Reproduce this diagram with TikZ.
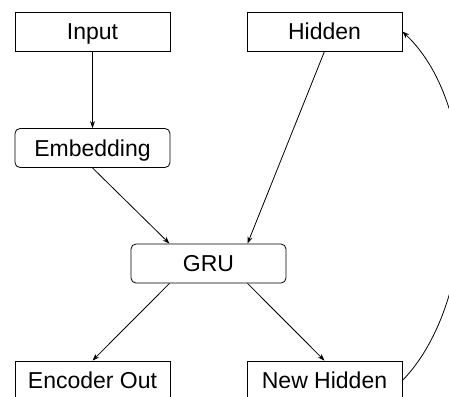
\documentclass[tikz,border=0pt]{standalone}
\usepackage{fontspec}
\setmainfont{Liberation Sans}
\usetikzlibrary{arrows.meta}
\begin{document}
\begin{tikzpicture}[x=1pt,y=-1pt,line width=.8pt,
 box/.style={draw,minimum width=155pt,minimum height=39pt,inner sep=0pt,
 text height=16pt,text depth=0pt,font=\fontsize{23}{27}\selectfont},
 rbox/.style={box,rounded corners=5pt},
 >={Stealth[length=7pt,width=5pt]}]
 \useasboundingbox (0,0) rectangle (449,396);
 \path
 (92.5,31.5) node[box] (inp) {Input} % <<< top row
 ++(232,0) node[box] (hid) {Hidden}
 (92.5,148) node[rbox] (emb) {Embedding} % <<< middle
 ++(116,115.5) node[rbox] (gru) {GRU}
 (92.5,380.5) node[box] (out) {Encoder Out} % <<< bottom row
 ++(232,0) node[box] (nhid) {New Hidden};
 \draw[->] (inp)--(emb);
 \draw[->] (emb.south)--([xshift=-39pt]gru.north);
 \draw[->] (hid.south)--([xshift=39pt]gru.north);
 \draw[->] ([xshift=-39pt]gru.south)--(out.north);
 \draw[->] ([xshift=39pt]gru.south)--(nhid.north);
 \draw[->] (nhid.east) .. controls +(77,-79) and +(82,77) .. (hid.east);
\end{tikzpicture}
\end{document}
